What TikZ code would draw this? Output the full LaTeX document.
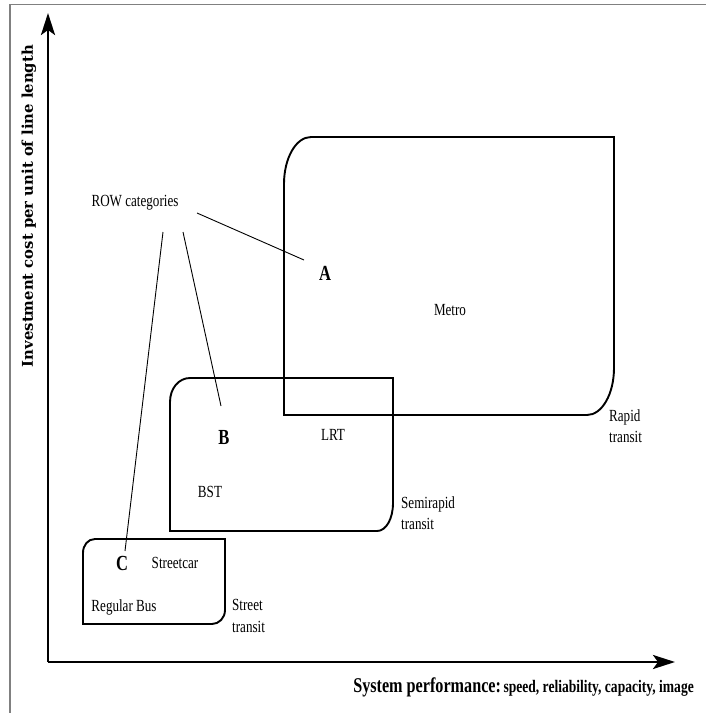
\documentclass[tikz,border=0pt]{standalone}
\usepackage{fontspec}
\setmainfont{Liberation Serif}[FakeStretch=0.77]
\newfontfamily\ylabfont{DejaVu Serif}
\usetikzlibrary{arrows.meta}
\tikzset{
  frameline/.style={draw=black!50, line width=1.4pt},
  axisline/.style={line width=2.6pt, -{Stealth[length=22pt,width=14pt,inset=5pt]}},
  catbox/.style={line width=1.9pt, line join=miter},
  leader/.style={line width=0.9pt},
  lbl/.style={inner sep=0pt, font=\fontsize{17}{21}\selectfont},
  rowletter/.style={inner sep=0pt, font=\fontsize{21.5}{21}\selectfont\bfseries},
  modelbl/.style={inner sep=0pt, anchor=west, align=left, font=\fontsize{17}{21.5}\selectfont},
}
\begin{document}
\begin{tikzpicture}[x=1pt,y=-1pt]
\useasboundingbox (0,0) rectangle (706,713);
% partial frame
\draw[frameline] (10,713) -- (10,4.5) -- (706,4.5);
% axes
\coordinate (origin) at (48,662);
\coordinate (ytip) at (48,13);
\coordinate (xtip) at (675,662);
\draw[axisline] (origin) -- (ytip);
\draw[axisline] (origin) -- (xtip);
% axis labels
\node[inner sep=0pt, rotate=90] (ylab) at (29,206)
  {\resizebox{322pt}{!}{\ylabfont\bfseries Investment cost per unit of line length}};
\node[inner sep=0pt, anchor=base east] (xlab) at (694,692)
  {\bfseries{\fontsize{21}{21}\selectfont System performance:} {\fontsize{17.6}{21}\selectfont speed, reliability, capacity, image}};
% Metro / rapid transit box
\draw[catbox] (284,415) -- (284,184)
  .. controls (284,158) and (296,137) .. (311,137)
  -- (614,137) -- (614,368)
  .. controls (614,394) and (602,415) .. (587,415) -- cycle;
% Semirapid box
\draw[catbox] (170,531) -- (170,402)
  .. controls (170,388) and (179,378) .. (190,378)
  -- (393,378) -- (393,503)
  .. controls (393,519) and (386,531) .. (377,531) -- cycle;
% Street transit box
\draw[catbox] (83,624) -- (83,553)
  .. controls (83,545) and (88,539) .. (95,539)
  -- (225,539) -- (225,610)
  .. controls (225,618) and (219,624) .. (212,624) -- cycle;
% texts
\node[lbl] (row) at (135,203) {ROW categories};
\node[rowletter] (A) at (325,273) {A};
\node[rowletter] (B) at (224,437) {B};
\node[rowletter] (C) at (122,563) {C};
\node[lbl] (metro) at (450,310) {Metro};
\node[lbl] (lrt) at (333,435) {LRT};
\node[lbl] (bst) at (210,492) {BST};
\node[lbl] (streetcar) at (175,563) {Streetcar};
\node[lbl] (bus) at (124,607) {Regular Bus};
\node[modelbl] (rapid) at (609,426) {Rapid\\transit};
\node[modelbl] (semi) at (401,513) {Semirapid\\transit};
\node[modelbl] (street) at (232,616) {Street\\transit};
% leader lines
\coordinate (rA0) at (197,213);
\coordinate (rA1) at (304,260);
\coordinate (rB0) at (183,232);
\coordinate (rB1) at (221,406);
\coordinate (rC0) at (163,232);
\coordinate (rC1) at (125,551);
\draw[leader] (rA0) -- (rA1);
\draw[leader] (rB0) -- (rB1);
\draw[leader] (rC0) -- (rC1);
\end{tikzpicture}
\end{document}
